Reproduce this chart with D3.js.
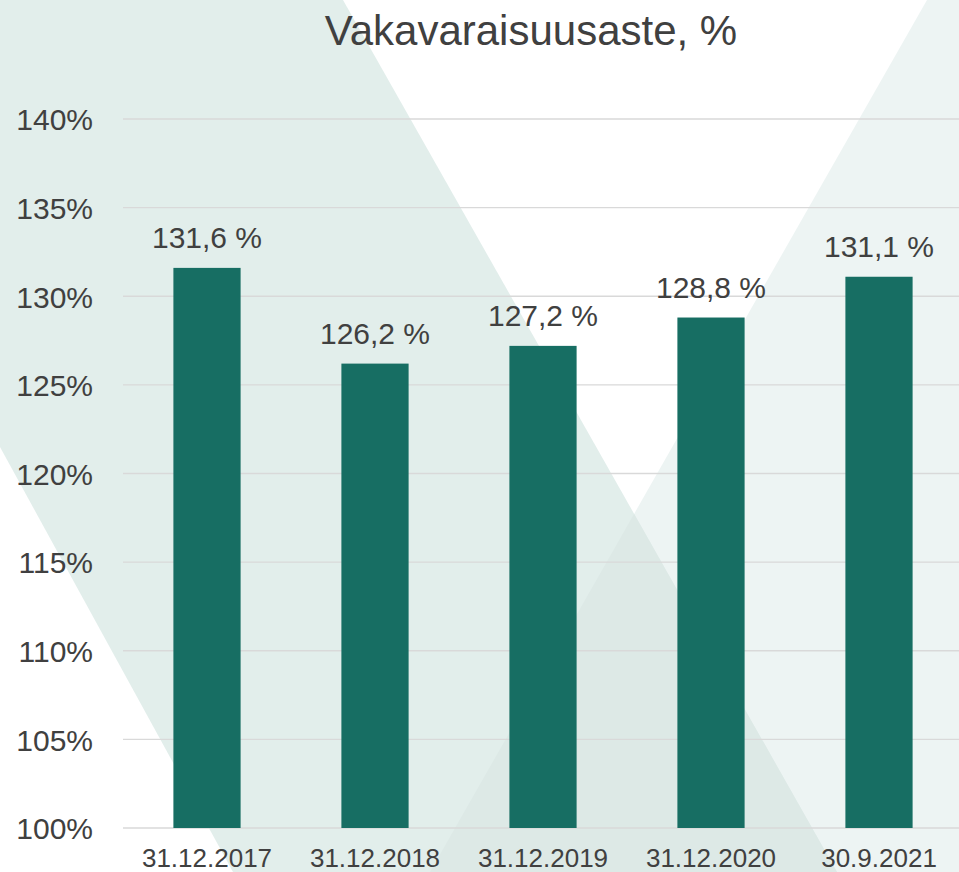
<!DOCTYPE html>
<html>
<head>
<meta charset="utf-8">
<script src="https://cdn.jsdelivr.net/npm/d3@7"></script>
<style>
  body { margin: 0; background: #fff; }
  svg { display: block; font-family: "Liberation Sans", Arial, sans-serif; }
</style>
</head>
<body>
<svg id="chart"></svg>
<script>
// --- Data ---
const dates = ["31.12.2017", "31.12.2018", "31.12.2019", "31.12.2020", "30.9.2021"];
const ratios = [131.6, 126.2, 127.2, 128.8, 131.1];
const yTicks = [100, 105, 110, 115, 120, 125, 130, 135, 140];

// --- Layout ---
const W = 959, H = 872;
const plot = { left: 123, right: 963, top: 119, bottom: 828 };

const svg = d3.select("#chart").attr("width", W).attr("height", H);

// --- Background decoration (two diagonal bands) ---
const bandA = [[0, 0], [343, 0], [837, 872], [233, 872], [0, 447]];
const bandB = [[927, 0], [959, 0], [959, 872], [430, 872]];
const toPts = p => p.map(d => d.join(",")).join(" ");

const defs = svg.append("defs");
defs.append("clipPath").attr("id", "clipA")
  .append("polygon").attr("points", toPts(bandA));

svg.append("polygon").attr("points", toPts(bandB)).attr("fill", "#edf4f3");
svg.append("polygon").attr("points", toPts(bandA)).attr("fill", "#e2eeeb");
svg.append("polygon").attr("points", toPts(bandB)).attr("fill", "#dde9e6")
  .attr("clip-path", "url(#clipA)");

// --- Scales ---
const x = d3.scaleBand().domain(dates).range([plot.left, plot.right]).paddingInner(0.6).paddingOuter(0.3);
const y = d3.scaleLinear().domain([100, 140]).range([plot.bottom, plot.top]);

// --- Gridlines ---
svg.append("g")
  .selectAll("line")
  .data(yTicks)
  .join("line")
  .attr("x1", plot.left)
  .attr("x2", W)
  .attr("y1", d => y(d))
  .attr("y2", d => y(d))
  .attr("stroke", "#d9d9d9")
  .attr("stroke-width", 1.3);

// --- Y axis labels ---
const yAxis = svg.append("g")
  .attr("transform", "translate(93,0)")
  .call(d3.axisLeft(y).tickValues(yTicks).tickSize(0).tickPadding(0).tickFormat(d => d + "%"));
yAxis.select(".domain").remove();
yAxis.selectAll("text")
  .style("font-size", "30px")
  .style("font-family", "'Liberation Sans', Arial, sans-serif")
  .attr("fill", "#404040")
  .attr("dy", "0.36em");

// --- X axis labels ---
const xAxis = svg.append("g")
  .attr("transform", `translate(0,${plot.bottom})`)
  .call(d3.axisBottom(x).tickSize(0).tickPadding(0));
xAxis.select(".domain").remove();
xAxis.selectAll("text")
  .attr("y", 39)
  .attr("dy", 0)
  .style("font-size", "26px")
  .style("font-family", "'Liberation Sans', Arial, sans-serif")
  .attr("fill", "#404040");

// --- Bars ---
svg.append("g")
  .selectAll("rect")
  .data(ratios)
  .join("rect")
  .attr("x", (d, i) => x(dates[i]))
  .attr("y", d => y(d))
  .attr("width", x.bandwidth())
  .attr("height", d => y(100) - y(d))
  .attr("fill", "#176e63");

// --- Value labels ---
svg.append("g")
  .selectAll("text")
  .data(ratios)
  .join("text")
  .attr("x", (d, i) => x(dates[i]) + x.bandwidth() / 2)
  .attr("y", d => y(d) - 20)
  .attr("text-anchor", "middle")
  .style("font-size", "30px")
  .attr("fill", "#404040")
  .text(d => d.toFixed(1).replace(".", ",") + " %");

// --- Title ---
svg.append("text")
  .attr("x", 531)
  .attr("y", 45)
  .attr("text-anchor", "middle")
  .style("font-size", "42px")
  .attr("fill", "#404040")
  .text("Vakavaraisuusaste, %");
</script>
</body>
</html>
